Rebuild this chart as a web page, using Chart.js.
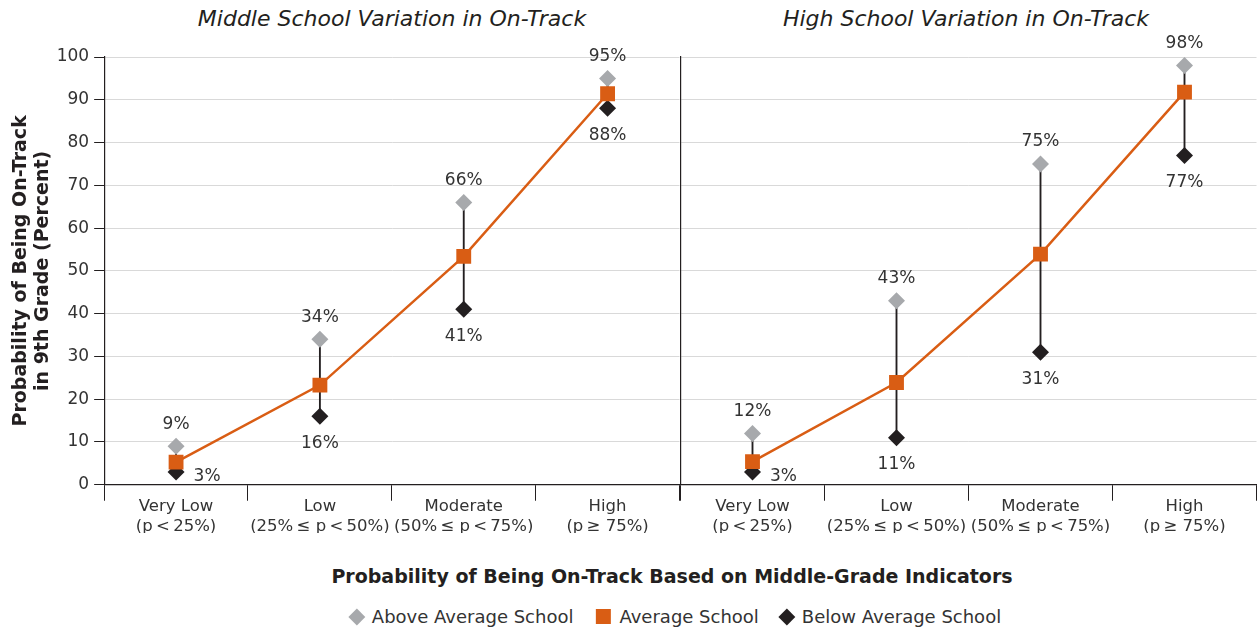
<!DOCTYPE html>
<html>
<head>
<meta charset="utf-8">
<script src="https://cdn.jsdelivr.net/npm/chart.js@4.4.1/dist/chart.umd.min.js"></script>
<style>
  body { margin: 0; background: #fff; font-family: 'DejaVu Sans', sans-serif; color: #231f20; }
  #page { position: relative; width: 1257px; height: 631px; overflow: hidden; }
  .box { position: absolute; }
  .title { position: absolute; top: 6px; font-style: italic; font-size: 22px; transform: translateX(-50%); white-space: nowrap; color: #231f20; }
  #xTitle { position: absolute; top: 565px; left: 672px; transform: translateX(-50%); font-size: 19px; font-weight: bold; white-space: nowrap; color: #231f20; }
  #legend { position: absolute; top: 606px; left: 676px; transform: translateX(-50%); font-size: 18px; white-space: nowrap; display: flex; align-items: center; color: #333; }
  .item { display: flex; align-items: center; margin: 0 11px; }
  .sw { width: 12px; height: 12px; margin-right: 9px; }
  .dia { transform: rotate(45deg); }
</style>
</head>
<body>
<div id="page">
  <div class="title" style="left:392px">Middle School Variation in On-Track</div>
  <div class="title" style="left:966px">High School Variation in On-Track</div>
  <div class="box" style="left:0; top:0; width:690px; height:545px;"><canvas id="middleChart"></canvas></div>
  <div class="box" style="left:670px; top:0; width:597px; height:545px;"><canvas id="highChart"></canvas></div>
  <div id="xTitle">Probability of Being On-Track Based on Middle-Grade Indicators</div>
  <div id="legend">
    <div class="item"><div class="sw dia" style="background:#a7a9ac"></div>Above Average School</div>
    <div class="item"><div class="sw" style="background:#d95d14;width:15px;height:15px"></div>Average School</div>
    <div class="item"><div class="sw dia" style="background:#231f20"></div>Below Average School</div>
  </div>
</div>
<script>
const categories = [
  ['Very Low', '(p\u2009<\u200925%)'],
  ['Low', '(25%\u2009\u2264 p\u2009<\u200950%)'],
  ['Moderate', '(50%\u2009\u2264 p\u2009<\u200975%)'],
  ['High', '(p\u2009\u2265 75%)']
];
const yTicks = [0, 10, 20, 30, 40, 50, 60, 70, 80, 90, 100];

const middleAbove = [9, 34, 66, 95];
const middleAverage = [5.3, 23.3, 53.4, 91.4];
const middleBelow = [3, 16, 41, 88];

const highAbove = [12, 43, 75, 98];
const highAverage = [5.4, 23.9, 53.9, 91.8];
const highBelow = [3, 11, 31, 77];

const colors = {
  above: '#a7a9ac',
  average: '#d95d14',
  below: '#231f20',
  grid: '#d9d9d9',
  text: '#333333'
};

const fontFamily = "'DejaVu Sans', sans-serif";

// percent labels next to the diamonds
const valueLabels = {
  id: 'valueLabels',
  afterDatasetsDraw(chart) {
    const ctx = chart.ctx;
    const aboveMeta = chart.getDatasetMeta(1);
    const belowMeta = chart.getDatasetMeta(2);
    ctx.save();
    ctx.font = '17px ' + fontFamily;
    ctx.fillStyle = colors.text;
    ctx.textAlign = 'center';
    ctx.textBaseline = 'middle';
    aboveMeta.data.forEach((pt, i) => {
      ctx.fillText(chart.data.datasets[1].data[i] + '%', pt.x, pt.y - 22);
    });
    belowMeta.data.forEach((pt, i) => {
      const txt = chart.data.datasets[2].data[i] + '%';
      if (i === 0) {
        ctx.fillText(txt, pt.x + 31, pt.y + 5);
      } else {
        ctx.fillText(txt, pt.x, pt.y + 27);
      }
    });
    ctx.restore();
  }
};

function makePanel(id, above, average, below, showY) {
  const ctx = document.getElementById(id);
  return new Chart(ctx.getContext('2d'), {
    data: {
      labels: categories,
      datasets: [{
        type: 'bar',
        data: above.map((a, i) => [below[i], a]),
        backgroundColor: colors.below,
        barThickness: 1.2,
        order: 4
      }, {
        type: 'line',
        label: 'Above Average School',
        data: above,
        showLine: false,
        pointStyle: 'rectRot',
        pointRadius: 8.5,
        pointBackgroundColor: colors.above,
        pointBorderWidth: 0,
        order: 3
      }, {
        type: 'line',
        label: 'Below Average School',
        data: below,
        showLine: false,
        pointStyle: 'rectRot',
        pointRadius: 8.5,
        pointBackgroundColor: colors.below,
        pointBorderWidth: 0,
        order: 2
      }, {
        type: 'line',
        label: 'Average School',
        data: average,
        borderColor: colors.average,
        borderWidth: 2.5,
        pointStyle: 'rect',
        pointRadius: 10.5,
        pointBackgroundColor: colors.average,
        pointBorderWidth: 0,
        order: 1
      }]
    },
    options: {
      responsive: true,
      maintainAspectRatio: false,
      animation: false,
      layout: {
        padding: showY ? { top: 57, left: 10, right: 0, bottom: 12 } : { top: 57, left: 10, right: 0, bottom: 12 }
      },
      plugins: {
        legend: { display: false },
        tooltip: { enabled: false }
      },
      scales: {
        x: {
          offset: true,
          grid: {
            offset: true,
            drawOnChartArea: false,
            tickLength: 16,
            color: '#231f20',
            tickColor: '#231f20'
          },
          border: { color: '#231f20', width: 1.2 },
          ticks: {
            color: colors.text,
            font: { family: fontFamily, size: 16.5, lineHeight: 1.22 },
            padding: -4,
            maxRotation: 0,
            autoSkip: false
          }
        },
        y: {
          min: 0,
          max: 100,
          afterBuildTicks(axis) {
            axis.ticks = yTicks.map(v => ({ value: v }));
          },
          grid: {
            color: colors.grid,
            tickColor: '#231f20',
            tickLength: 10,
            drawTicks: showY
          },
          border: { color: '#231f20', width: 1.2 },
          ticks: {
            display: showY,
            color: colors.text,
            font: { family: fontFamily, size: 17 },
            padding: 5
          },
          title: {
            display: showY,
            text: ['Probability of Being On-Track', 'in 9th Grade (Percent)'],
            color: colors.below,
            font: { family: fontFamily, size: 19, weight: 'bold', lineHeight: 1.15 },
            padding: { top: 0, bottom: -2 }
          }
        }
      }
    },
    plugins: [valueLabels]
  });
}

makePanel('middleChart', middleAbove, middleAverage, middleBelow, true);
makePanel('highChart', highAbove, highAverage, highBelow, false);
</script>
</body>
</html>
